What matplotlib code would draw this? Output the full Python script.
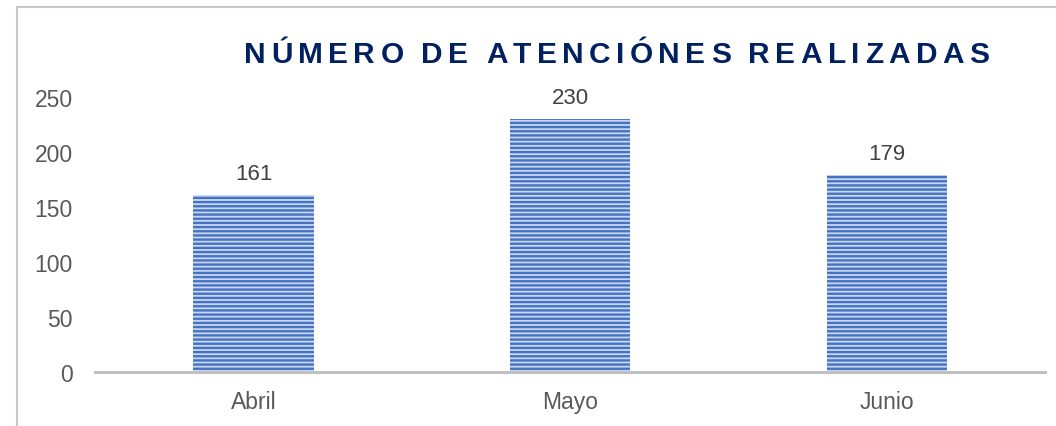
import matplotlib.pyplot as plt
from matplotlib.patches import Rectangle

meses = ['Abril', 'Mayo', 'Junio']
atenciones = [161, 230, 179]
ticks_y = [0, 50, 100, 150, 200, 250]
titulo = 'NÚMERO DE ATENCIÓNES REALIZADAS'

plt.rcParams['font.family'] = ['Liberation Sans', 'DejaVu Sans']
plt.rcParams['hatch.linewidth'] = 1.7
plt.rcParams['hatch.color'] = '#4472C4'

fig = plt.figure(figsize=(10.56, 4.27), dpi=100)
ax = fig.add_axes([0.090, 0.1265, 0.900, 0.644])

# gray chart frame (cut off at right and bottom)
fig.patches.append(Rectangle((17 / 1056, -0.1), 1.2, (427 - 8) / 427 + 0.1,
                             transform=fig.transFigure, fill=False,
                             edgecolor='#C8C8C8', linewidth=1.5))

x = range(len(meses))
bars = ax.bar(x, atenciones, width=0.38, color='#CBD7EF', hatch='----',
              edgecolor='#4472C4', linewidth=0)
for b, v in zip(bars, atenciones):
    ax.annotate(str(v), (b.get_x() + b.get_width() / 2, v), xytext=(0, 8),
                textcoords='offset points', ha='center', va='bottom',
                fontsize=16, color='#404040', annotation_clip=False)

ax.set_xlim(-0.5, 2.5)
ax.set_ylim(0, 250)
ax.set_xticks(list(x))
ax.set_xticklabels(meses)
ax.set_yticks(ticks_y)
ax.tick_params(length=0, labelsize=16.5, labelcolor='#595959')
ax.tick_params(axis='y', pad=16)
ax.tick_params(axis='x', pad=13)
for s in ['top', 'right', 'left']:
    ax.spines[s].set_visible(False)
ax.spines['bottom'].set_color('#C0C0C0')
ax.spines['bottom'].set_linewidth(2.2)

# letter-spaced bold title
fig.canvas.draw()
r = fig.canvas.get_renderer()
x0, y0 = 244 / 1056, (427 - 63) / 427
gap = 5.4 / 1056
for ch in titulo:
    t = fig.text(x0, y0, ch, fontsize=21.5, fontweight='bold', color='#002060',
                 ha='left', va='baseline')
    w = t.get_window_extent(renderer=r).width
    if ch == ' ':
        w = 7
    x0 += w / 1056 + gap

fig.savefig('out.png', dpi=100)
